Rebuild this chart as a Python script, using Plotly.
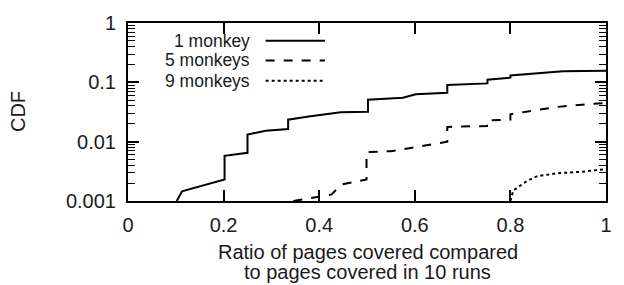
import plotly.graph_objects as go

# Data
x_1monkey = [0.102, 0.113, 0.202, 0.202, 0.250, 0.250, 0.288, 0.335, 0.335, 0.378, 0.445, 0.502, 0.502,
             0.575, 0.602, 0.668, 0.668, 0.752, 0.752, 0.800, 0.800, 0.841, 0.910, 1.0]
y_1monkey = [0.001, 0.00146, 0.0023, 0.00577, 0.0065, 0.0132, 0.0153, 0.0163, 0.0235, 0.0266, 0.0312, 0.032,
             0.051, 0.055, 0.0627, 0.0665, 0.0906, 0.096, 0.111, 0.12, 0.131, 0.139, 0.153, 0.157]

x_5monkeys = [0.346, 0.40, 0.426, 0.447, 0.499, 0.499, 0.55, 0.599, 0.668, 0.668, 0.751, 0.751, 0.80, 0.80,
              0.834, 0.896, 0.95, 1.0]
y_5monkeys = [0.001, 0.00117, 0.00129, 0.00191, 0.0023, 0.00668, 0.0069, 0.008, 0.01, 0.0177, 0.0184, 0.0227,
              0.0235, 0.029, 0.0319, 0.0384, 0.042, 0.045]

x_9monkeys = [0.80, 0.806, 0.834, 0.855, 0.896, 0.952, 1.0]
y_9monkeys = [0.001, 0.0015, 0.00216, 0.0026, 0.00293, 0.00312, 0.00345]

series_names = ["1 monkey", "5 monkeys", "9 monkeys"]
series_dash = ["solid", "dash", "dot"]

x_ticks = [0, 0.2, 0.4, 0.6, 0.8, 1]
x_ticklabels = ["0", "0.2", "0.4", "0.6", "0.8", "1"]
y_ticks = [0.001, 0.01, 0.1, 1]
y_ticklabels = ["0.001", "0.01", "0.1", "1"]
x_title_lines = ["Ratio of pages covered compared", "to pages covered in 10 runs"]
y_title = "CDF"

FONT = "Liberation Sans, Arial, sans-serif"
INK = "#1a1a1a"

fig = go.Figure()
# invisible helper trace so the minor-tick overlay axis is drawn
fig.add_trace(go.Scatter(x=[None], y=[None], yaxis="y2", mode="lines", showlegend=False, hoverinfo="skip"))
for xs, ys, name, dash in zip([x_1monkey, x_5monkeys, x_9monkeys],
                              [y_1monkey, y_5monkeys, y_9monkeys],
                              series_names, series_dash):
    fig.add_trace(go.Scatter(x=xs, y=ys, mode="lines", name=name,
                             line=dict(color="black", width=2, dash=dash),
                             showlegend=False, cliponaxis=True))

# Custom legend (text left, line sample right, like gnuplot)
legend_rows_y = [0.90, 0.79, 0.675]
for name, dash, ly in zip(series_names, series_dash, legend_rows_y):
    fig.add_annotation(xref="paper", yref="paper", x=0.259, y=ly, text=name, showarrow=False,
                       xanchor="right", yanchor="middle", font=dict(family=FONT, size=17.5, color=INK))
    fig.add_shape(type="line", xref="paper", yref="paper", x0=0.288, x1=0.412, y0=ly, y1=ly,
                  line=dict(color="black", width=2, dash=dash))

# Axis titles
fig.add_annotation(xref="paper", yref="paper", x=0.502, y=-0.287, text=x_title_lines[0], showarrow=False,
                   xanchor="center", yanchor="middle", font=dict(family=FONT, size=20, color=INK))
fig.add_annotation(xref="paper", yref="paper", x=0.502, y=-0.399, text=x_title_lines[1], showarrow=False,
                   xanchor="center", yanchor="middle", font=dict(family=FONT, size=20, color=INK))
fig.add_annotation(xref="paper", yref="paper", x=-0.230, y=0.5, text=y_title, showarrow=False, textangle=-90,
                   xanchor="center", yanchor="middle", font=dict(family=FONT, size=20, color=INK))

minor_vals = []
for d in [0.001, 0.01, 0.1]:
    for k in range(2, 10):
        minor_vals.append(k * d)

fig.update_layout(
    width=624, height=285,
    margin=dict(l=128, r=14, t=13, b=84),
    paper_bgcolor="white", plot_bgcolor="white",
    font=dict(family=FONT, size=20, color=INK),
    xaxis=dict(range=[0, 1], tickmode="array", tickvals=x_ticks, ticktext=x_ticklabels,
               ticks="inside", ticklen=11, tickwidth=1.5, tickcolor="black",
               showline=True, linecolor="black", linewidth=2, mirror="ticks",
               showgrid=False, zeroline=False, ticklabelstandoff=5,
               tickfont=dict(size=20)),
    yaxis=dict(type="log", range=[-3, 0], tickmode="array", tickvals=y_ticks, ticktext=y_ticklabels,
               ticks="inside", ticklen=11, tickwidth=1.5, tickcolor="black",
               showline=True, linecolor="black", linewidth=2, mirror="ticks",
               showgrid=False, zeroline=False, ticklabelstandoff=6,
               tickfont=dict(size=20)),
    yaxis2=dict(type="log", range=[-3, 0], overlaying="y", side="left", anchor="x",
                tickmode="array", tickvals=minor_vals, showticklabels=False,
                ticks="inside", ticklen=7, tickwidth=1.2, tickcolor="black",
                showline=False, mirror="ticks", showgrid=False, zeroline=False),
)

fig.write_html("out.html")
